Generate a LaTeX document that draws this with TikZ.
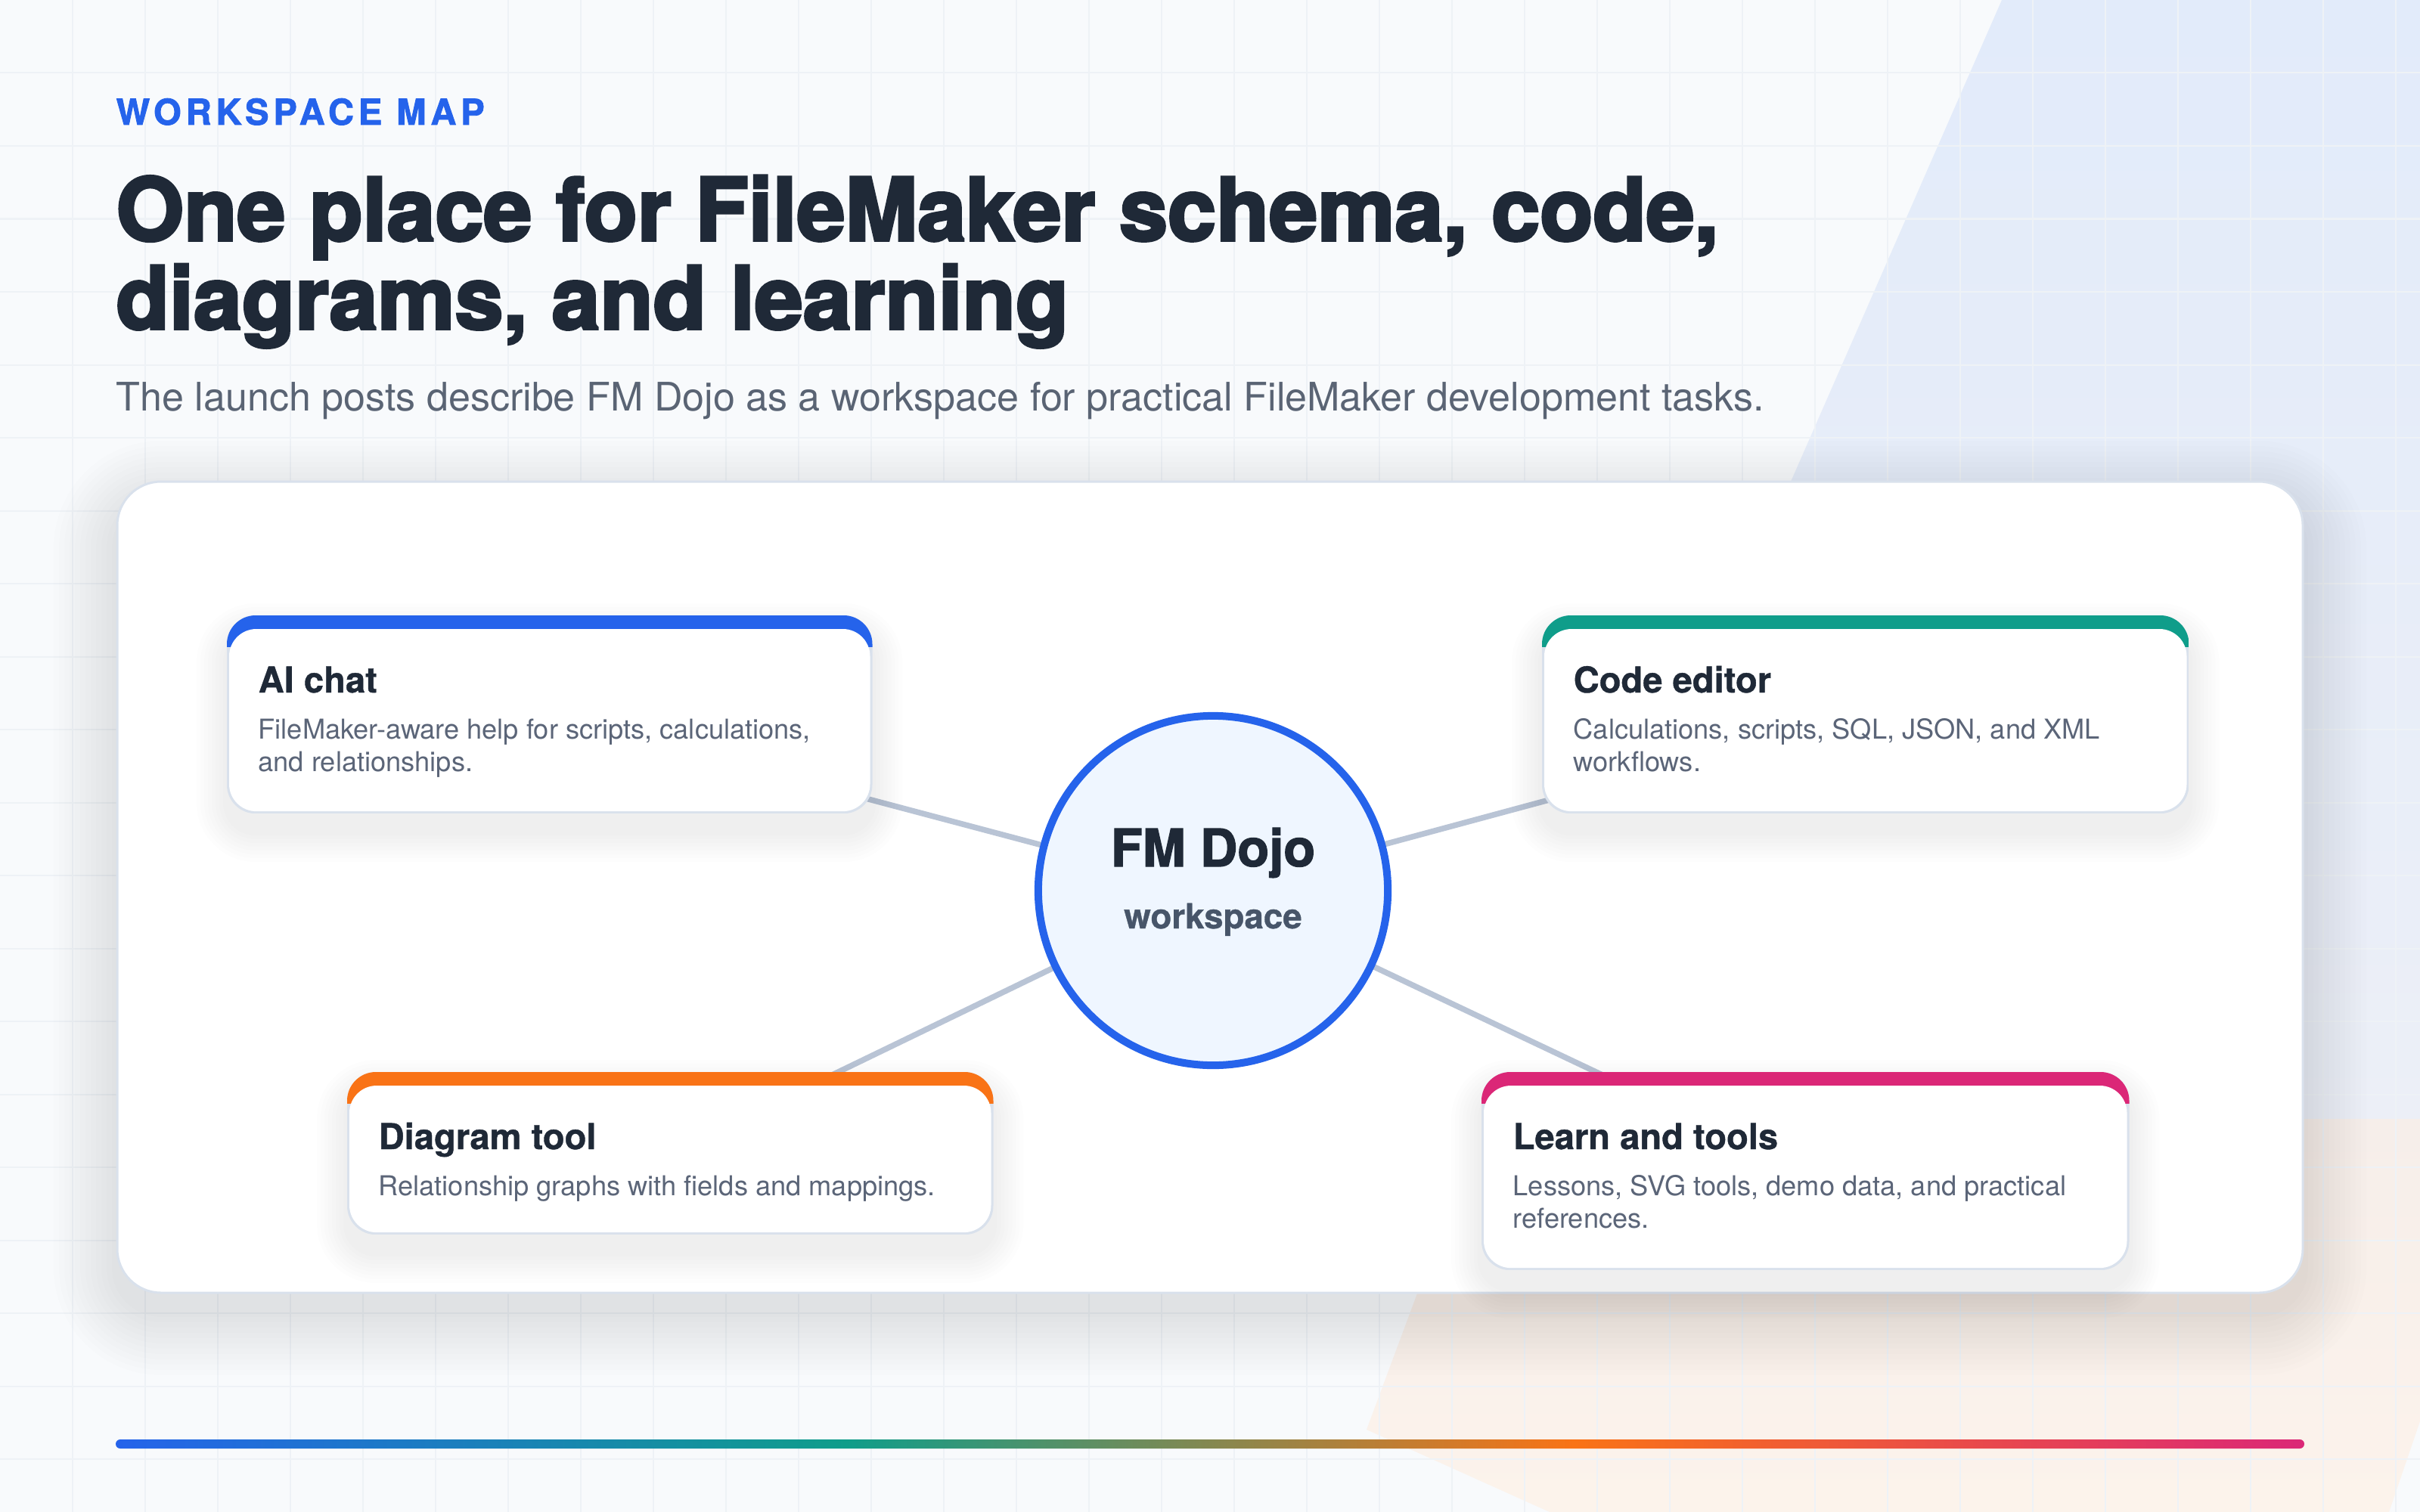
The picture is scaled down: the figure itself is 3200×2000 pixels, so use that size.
\documentclass[tikz,border=0pt]{standalone}
\usepackage{fontspec}
\setmainfont{TeX Gyre Heros}
\newfontface\heavyface{texgyreheros-bold.otf}[FakeBold=1.8]
\newfontface\blackface{texgyreheros-bold.otf}[FakeBold=3.2]
\newfontface\semiheavyface{texgyreheros-bold.otf}[FakeBold=0.8]
\usetikzlibrary{calc}

\definecolor{fmblue}{HTML}{2563EB}
\definecolor{fmteal}{HTML}{0F9D8A}
\definecolor{fmorange}{HTML}{F97316}
\definecolor{fmpink}{HTML}{DB2777}
\definecolor{ink}{HTML}{1F2937}
\definecolor{muted}{HTML}{5B6578}
\definecolor{subink}{HTML}{5A6474}
\definecolor{bgbase}{HTML}{F8FAFC}
\definecolor{gridc}{HTML}{EEF2F6}
\definecolor{edgec}{HTML}{D9E1EC}
\definecolor{linkc}{HTML}{B9C4D5}
\definecolor{dojofill}{HTML}{EFF6FF}
\definecolor{wsink}{HTML}{475569}
\definecolor{shadowc}{HTML}{0F172A}
\definecolor{bluewash}{HTML}{E2EBFA}
\definecolor{bluewashb}{HTML}{ECEFF7}
\definecolor{peachA}{HTML}{F6EEEA}
\definecolor{peachB}{HTML}{FCF3EB}

\pgfdeclarehorizontalshading{fmrainbow}{100bp}{color(0bp)=(fmblue); color(25bp)=(fmblue); color(41.7bp)=(fmteal); color(58.3bp)=(fmorange); color(75bp)=(fmpink); color(100bp)=(fmpink)}

\pgfdeclarelayer{back}
\pgfdeclarelayer{links}
\pgfsetlayers{back,links,main}

\tikzset{
  cardnode/.style={rectangle, inner sep=0pt, outer sep=0pt, draw=none},
  cardtitle/.style={inner sep=0pt, text=ink, font=\semiheavyface\fontsize{13.4pt}{16pt}\selectfont},
  carddesc/.style={inner sep=0pt, text=muted, font=\fontsize{10.3pt}{12.5pt}\selectfont},
  conn/.style={draw=linkc, line width=0.075cm},
  gridline/.style={draw=gridc, line width=0.02cm},
}

% #1 name, #2 x, #3 y, #4 width, #5 height, #6 colour, #7 title, #8 description
\newcommand\fmcard[8]{%
  \node[cardnode, anchor=north west, minimum width=#4, minimum height=#5] (#1) at (#2,#3) {};
  \foreach \i in {1,...,8}{
    \pgfmathsetmacro\rr{0.38+0.05*\i}
    \fill[shadowc, fill opacity=0.009, rounded corners=\rr cm]
      ($(#1.north west)+(-5*\i,24-5*\i)$) rectangle ($(#1.south east)+(5*\i,24+5*\i)$);
  }
  \begin{scope}
    \clip[rounded corners=0.38cm] (#1.north west) rectangle (#1.south east);
    \fill[edgec] (#1.north west) rectangle (#1.south east);
    \fill[#6] (#1.north west) rectangle ($(#1.north east)+(0,42)$);
    \fill[white, rounded corners=0.36cm] ($(#1.north west)+(3,18)$) rectangle ($(#1.south east)+(-3,-3)$);
  \end{scope}
  \node[cardtitle, anchor=base west] (#1-t) at ($(#1.north west)+(41,102)$) {#7};
  \node[carddesc, anchor=base west] (#1-d) at ($(#1.north west)+(41,163)$) {\parbox[t]{8cm}{\raggedright #8}};
}

\begin{document}
\begin{tikzpicture}[x=0.01cm, y=-0.01cm]
\useasboundingbox (0,0) rectangle (3200,2000);

\begin{pgfonlayer}{back}
  % background
  \fill[bgbase] (0,0) rectangle (3200,2000);
  \shade[top color=bluewash, bottom color=bluewashb] (2647,0) -- (3200,0) -- (3200,1500) -- (1990,1500) -- cycle;
  \shade[top color=peachA, bottom color=peachB] (1960,1480) -- (3200,1480) -- (3200,1880) -- (3159,2000) -- (2049,2000) -- (1807,1891) -- cycle;
  \foreach \gx in {1,...,33} { \draw[gridline] (96*\gx,0) -- (96*\gx,2000); }
  \foreach \gy in {1,...,20} { \draw[gridline] (0,96.5*\gy) -- (3200,96.5*\gy); }

  % header
  \node[inner sep=0pt, anchor=base west, text=fmblue, font=\heavyface\fontsize{13.4pt}{16pt}\selectfont\addfontfeatures{LetterSpace=12.5}] (eyebrow) at (153,165) {WORKSPACE MAP};
  \node[inner sep=0pt, anchor=base west, text=ink, font=\blackface\fontsize{32.7pt}{33.3pt}\selectfont] (title) at (153,318)
    {\parbox[t]{30cm}{\raggedright One place for FileMaker schema, code,\\diagrams, and learning}};
  \node[inner sep=0pt, anchor=base west, text=subink, font=\fontsize{14.8pt}{18pt}\selectfont] (subtitle) at (153,543)
    {The launch posts describe FM Dojo as a workspace for practical FileMaker development tasks.};

  % panel with shadow
  \foreach \i in {1,...,12}{
    \pgfmathsetmacro\pr{0.58+0.07*\i}
    \fill[shadowc, fill opacity=0.007, rounded corners=\pr cm] (155-7*\i,667-7*\i) rectangle (3045+7*\i,1735+7*\i);
  }
  \fill[white, draw=edgec, line width=0.03cm, rounded corners=0.58cm] (155,637) rectangle (3045,1710);

  % gradient bar
  \shade[shading=fmrainbow, rounded corners=0.06cm] (153,1904) rectangle (3047,1916);
\end{pgfonlayer}

% cards
\fmcard{ai}{300}{814}{8.53cm}{2.62cm}{fmblue}{AI chat}{FileMaker-aware help for scripts, calculations,\\and relationships.}
\fmcard{code}{2039}{814}{8.55cm}{2.62cm}{fmteal}{Code editor}{Calculations, scripts, SQL, JSON, and XML\\workflows.}
\fmcard{diag}{459}{1418}{8.54cm}{2.15cm}{fmorange}{Diagram tool}{Relationship graphs with fields and mappings.}
\fmcard{learn}{1959}{1418}{8.56cm}{2.62cm}{fmpink}{Learn and tools}{Lessons, SVG tools, demo data, and practical\\references.}

% hub
\node[circle, draw=fmblue, line width=0.1cm, fill=dojofill, minimum size=4.62cm, inner sep=0pt] (dojo) at (1604,1178) {};
\node[inner sep=0pt, anchor=base, text=ink, font=\heavyface\fontsize{19.5pt}{24pt}\selectfont] (dojo-t) at (1604,1146) {FM Dojo};
\node[inner sep=0pt, anchor=base, text=wsink, font=\semiheavyface\fontsize{13pt}{16pt}\selectfont] (dojo-s) at (1604,1228) {workspace};

% connectors
\begin{pgfonlayer}{links}
  \draw[conn] (ai.center) -- (dojo.center);
  \draw[conn] (code.center) -- (dojo.center);
  \draw[conn] (diag.center) -- (dojo.center);
  \draw[conn] (learn.center) -- (dojo.center);
\end{pgfonlayer}
\end{tikzpicture}
\end{document}
